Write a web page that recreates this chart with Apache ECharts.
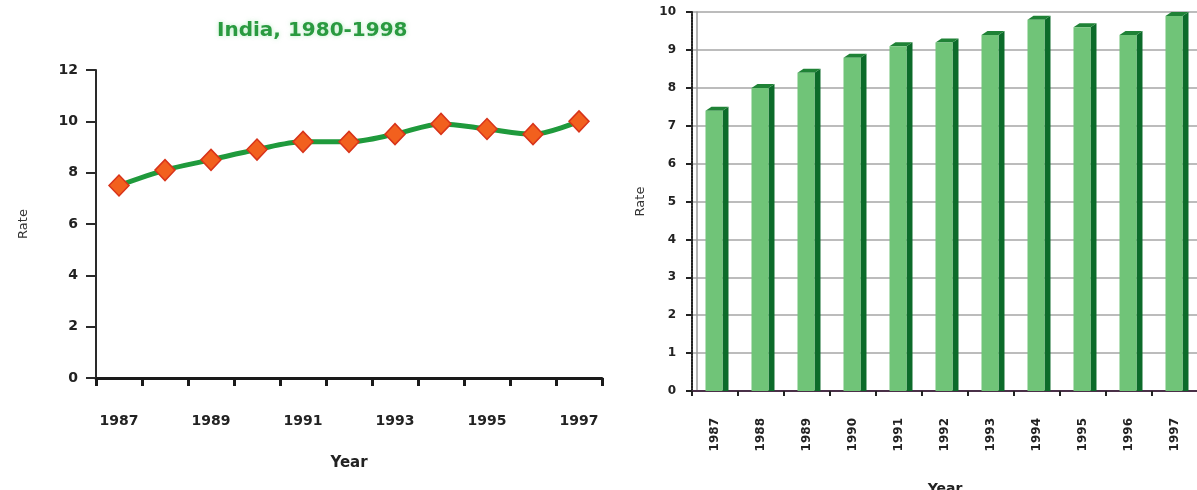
<!DOCTYPE html>
<html>
<head>
<meta charset="utf-8">
<title>India, 1980-1998</title>
<script src="https://cdn.jsdelivr.net/npm/echarts@6/dist/echarts.min.js"></script>
<style>
  html, body { margin: 0; padding: 0; background: #ffffff; }
  #chart { width: 1197px; height: 490px; }
</style>
</head>
<body>
<div id="chart"></div>
<script>
// Years shown on both panels
const years = ['1987', '1988', '1989', '1990', '1991', '1992', '1993', '1994', '1995', '1996', '1997'];
// Rate per year, line panel
const lineRates = [7.5, 8.1, 8.5, 8.9, 9.2, 9.2, 9.5, 9.9, 9.7, 9.5, 10.0];
// Rate per year, column panel
const barRates = [7.5, 8.1, 8.5, 8.9, 9.2, 9.3, 9.5, 9.9, 9.7, 9.5, 10.0];

const titleText = 'India, 1980-1998';
const yName = 'Rate';
const xName = 'Year';

const BOLD = 'DejaVu Sans';
const ink = '#222222';

const chart = echarts.init(document.getElementById('chart'), null, { renderer: 'canvas' });

// Pseudo-3D column: front face, dark right side and a slanted top cap
function renderColumn(params, api) {
  const idx = api.value(0);
  const v = api.value(1);
  const base = api.coord([idx, 0]);
  const top = api.coord([idx, v]);
  const band = api.size([1, 0])[0];
  const faceW = band * 0.37;
  const dx = band * 0.13;
  const dy = 4;
  const x0 = base[0] - faceW / 2 - 1;
  const x1 = x0 + faceW;
  const yTop = top[1] + dy;
  const yBot = base[1];
  return {
    type: 'group',
    children: [
      {
        type: 'polygon',
        shape: { points: [[x1, yTop], [x1 + dx, yTop - dy], [x1 + dx, yBot], [x1, yBot]] },
        style: { fill: '#0c6b2a' }
      },
      {
        type: 'polygon',
        shape: { points: [[x0, yTop], [x0 + dx, yTop - dy], [x1 + dx, yTop - dy], [x1, yTop]] },
        style: { fill: '#1f8236' }
      },
      {
        type: 'rect',
        shape: { x: x0, y: yTop, width: faceW, height: yBot - yTop },
        style: { fill: '#70c478' }
      }
    ]
  };
}

const option = {
  backgroundColor: '#ffffff',
  animation: false,
  title: [{
    text: titleText,
    left: 212,
    top: 16,
    textStyle: { color: '#2a9a40', fontFamily: BOLD, fontWeight: 'bold', fontSize: 20,
                 textShadowColor: 'rgba(120,220,140,0.5)', textShadowBlur: 4 }
  }],
  grid: [
    { left: 96, top: 70, width: 506, height: 308, outerBoundsMode: 'none' },
    { left: 692, top: 12, width: 506, height: 379, outerBoundsMode: 'none' }
  ],
  xAxis: [
    {
      type: 'category', gridIndex: 0, data: years, boundaryGap: true,
      name: xName, nameLocation: 'middle', nameGap: 78,
      nameTextStyle: { color: ink, fontFamily: BOLD, fontWeight: 'bold', fontSize: 15 },
      axisLine: { lineStyle: { color: '#1a1a1a', width: 3 } },
      axisTick: { show: true, interval: 0, length: 8, lineStyle: { color: '#1a1a1a', width: 3 } },
      axisLabel: { interval: 1, margin: 36, color: ink, fontFamily: BOLD, fontWeight: 'bold', fontSize: 14 },
      splitLine: { show: false }
    },
    {
      type: 'category', gridIndex: 1, data: years, boundaryGap: true,
      name: xName, nameLocation: 'middle', nameGap: 91,
      nameTextStyle: { color: ink, fontFamily: BOLD, fontWeight: 'bold', fontSize: 14 },
      axisLine: { lineStyle: { color: '#4a3048', width: 2 } },
      axisTick: { show: true, interval: 0, length: 5, lineStyle: { color: '#222', width: 2 } },
      axisLabel: { interval: 0, rotate: 90, margin: 27, color: ink, fontFamily: BOLD, fontWeight: 'bold', fontSize: 12 },
      splitLine: { show: false }
    }
  ],
  yAxis: [
    {
      type: 'value', gridIndex: 0, min: 0, max: 12, interval: 2,
      name: yName, nameLocation: 'middle', nameGap: 66, nameRotate: 90,
      nameTextStyle: { color: '#333', fontFamily: 'DejaVu Sans', fontSize: 13 },
      axisLine: { show: true, lineStyle: { color: '#2a2a2a', width: 2 } },
      axisTick: { show: true, length: 10, lineStyle: { color: '#2a2a2a', width: 2 } },
      axisLabel: { margin: 18, color: ink, fontFamily: BOLD, fontWeight: 'bold', fontSize: 14 },
      splitLine: { show: false }
    },
    {
      type: 'value', gridIndex: 1, min: 0, max: 10, interval: 1,
      name: yName, nameLocation: 'middle', nameGap: 45, nameRotate: 90,
      nameTextStyle: { color: '#333', fontFamily: 'DejaVu Sans', fontSize: 13 },
      axisLine: { show: true, lineStyle: { color: '#222', width: 2, type: [2, 1] } },
      axisTick: { show: true, length: 6, lineStyle: { color: '#222', width: 2 } },
      axisLabel: { margin: 16, color: ink, fontFamily: BOLD, fontWeight: 'bold', fontSize: 12 },
      splitLine: { show: true, lineStyle: { color: '#a6a6a6', width: 1.5 } }
    },
    {
      // back-wall edge of the column panel
      type: 'value', gridIndex: 1, min: 0, max: 10, interval: 1, position: 'left', offset: -5,
      axisLine: { show: true, lineStyle: { color: '#9a9a9a', width: 1.5 } },
      axisTick: { show: false }, axisLabel: { show: false }, splitLine: { show: false }
    }
  ],
  series: [
    {
      type: 'line', xAxisIndex: 0, yAxisIndex: 0, data: lineRates,
      smooth: 0.3,
      lineStyle: { color: '#1f9a3c', width: 5 },
      symbol: 'diamond', symbolSize: [20, 21],
      itemStyle: { color: '#f2601e', borderColor: '#d8331a', borderWidth: 1.5 },
      z: 3
    },
    {
      type: 'custom', xAxisIndex: 1, yAxisIndex: 1,
      data: barRates.map((v, i) => [i, v]),
      renderItem: renderColumn,
      encode: { x: 0, y: 1 },
      z: 3
    }
  ]
};

chart.setOption(option);
</script>
</body>
</html>
